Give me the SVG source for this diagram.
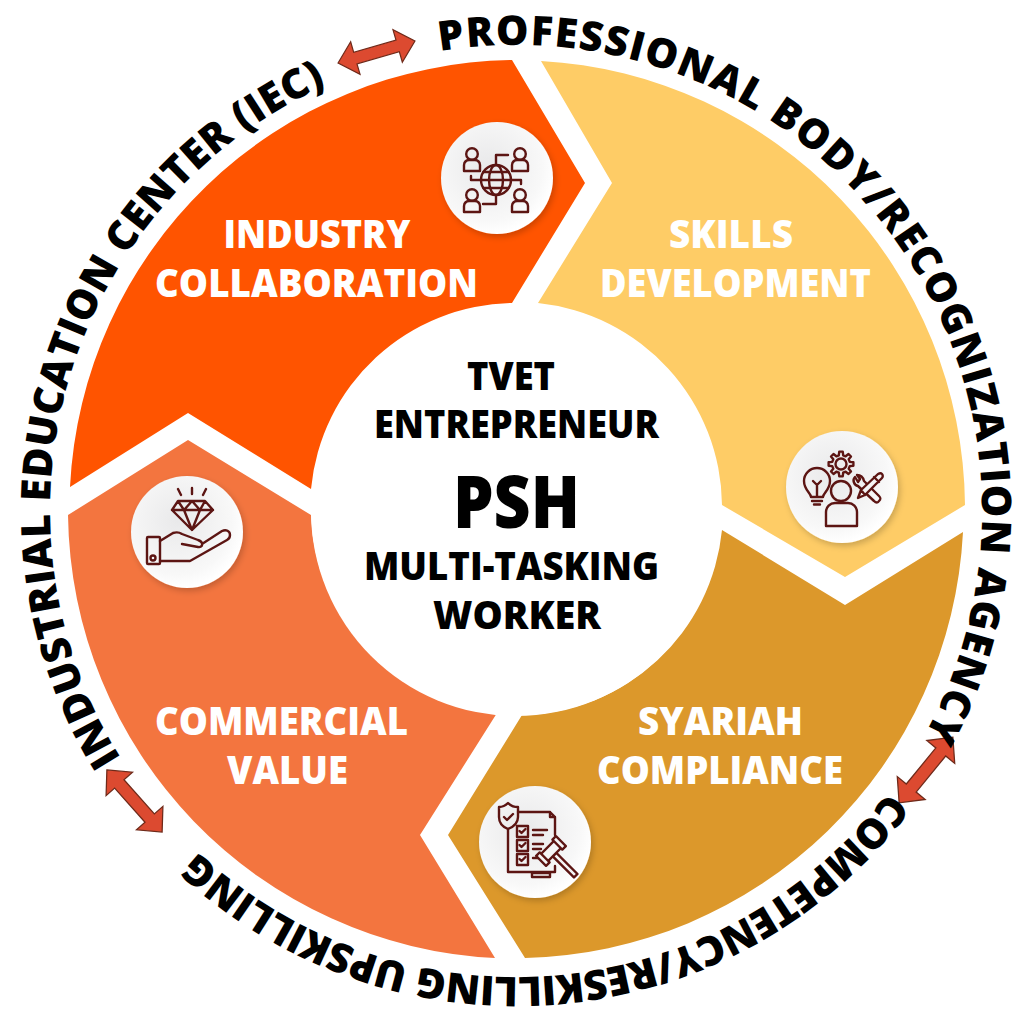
<svg xmlns="http://www.w3.org/2000/svg" width="1030" height="1020" viewBox="0 0 1030 1020">
<style>
text{font-family:"Open Sans","Liberation Sans",sans-serif;font-weight:800}
.l{font-size:38px;fill:#fff;text-anchor:middle}
.c{font-size:38px;fill:#000;text-anchor:middle}
.r{font-size:41px;fill:#000}
.ic{fill:none;stroke:#5c1513;stroke-width:2.4;stroke-linecap:round;stroke-linejoin:round}
.disc{fill:url(#dg);filter:url(#sh)}
.ar{fill:#dc4a30;stroke:#6e2a1a;stroke-width:1.2}
</style>
<defs>
<radialGradient id="dg" cx=".42" cy=".4" r=".6"><stop offset="0" stop-color="#e9e9ea"/><stop offset=".8" stop-color="#f8f8f8"/><stop offset="1" stop-color="#fff"/></radialGradient>
<filter id="sh" x="-20%" y="-20%" width="140%" height="140%"><feDropShadow dx="2" dy="3" stdDeviation="3" flood-color="#000" flood-opacity=".2"/></filter>
<path id="p1" d="M439.900 51.200A466 466 0 0 1 924.700 734.800"/>
<path id="p2" d="M888.200 791.400A466 466 0 0 1 186.500 840.500"/>
<path id="p3" d="M120.900 758A466 466 0 0 1 326.400 85.300"/>
<polygon id="arrow" class="ar" points="-40,0 -22,-17 -22,-6 22,-6 22,-17 40,0 22,17 22,6 -22,6 -22,17"/>
<g id="person"><circle cx="0" cy="-6" r="5.800"/><path d="M-8 11V5a5.500 5.500 0 0 1 5-5h6a5.500 5.500 0 0 1 5 5v6z"/></g>
</defs>
<rect width="1030" height="1020" fill="#fff"/>
<g id="connectors">
<use href="#arrow" transform="translate(376.500 52) rotate(-16)"/>
<use href="#arrow" transform="translate(926 770) rotate(-50.700) scale(1.060)"/>
<use href="#arrow" transform="translate(134.500 801) rotate(48.400) scale(1.040)"/>
</g>
<g id="ring-text">
<text class="r"><textPath href="#p1" textLength="1042" lengthAdjust="spacing">PROFESSIONAL BODY/RECOGNIZATION AGENCY</textPath></text>
<text class="r"><textPath href="#p2" textLength="782" lengthAdjust="spacing">COMPETENCY/RESKILLING UPSKILLING</textPath></text>
<text class="r"><textPath href="#p3" textLength="797" lengthAdjust="spacing">INDUSTRIAL EDUCATION CENTER (IEC)</textPath></text>
</g>
<g id="node-industry">
<path fill="#ff5400" d="M70 487A449 449 0 0 1 512 60L585 183L512 303A205 205 0 0 0 311 489L188 413Z"/>
<text class="l" x="317" y="248" textLength="187" lengthAdjust="spacingAndGlyphs">INDUSTRY</text>
<text class="l" x="316.500" y="297" textLength="323" lengthAdjust="spacingAndGlyphs">COLLABORATION</text>
<circle class="disc" cx="497" cy="178" r="56"/>
<g class="ic"><circle cx="496" cy="180" r="15"/><ellipse cx="496" cy="180" rx="7" ry="15"/><path d="M481 180h30M483.500 172h25M483.500 188h25M496 165V155h12M481 180h-10v-4M511 180h10v4M496 195v9h-13"/>
<use href="#person" x="472" y="160"/><use href="#person" x="520" y="160"/><use href="#person" x="472" y="201"/><use href="#person" x="520" y="201"/></g>
</g>
<g id="node-skills">
<path fill="#fecc66" d="M541 61A449 449 0 0 1 965 505L845 577L722 505A205 205 0 0 0 538 303L612 183Z"/>
<text class="l" x="731" y="248" textLength="124" lengthAdjust="spacingAndGlyphs">SKILLS</text>
<text class="l" x="735.500" y="297" textLength="271" lengthAdjust="spacingAndGlyphs">DEVELOPMENT</text>
<circle class="disc" cx="842" cy="487" r="56"/>
<g class="ic"><path d="M811 497c0-4-7-7-7-16a13 13 0 0 1 26 0c0 9-7 12-7 16zM812 501h10M814 504.500h6M817 497v-12l-4-4M817 485l4-4"/>
<circle cx="841" cy="464" r="5.500"/><polygon transform="translate(841 464)" points="8.730,-2.180 12.380,-1.740 12.380,1.740 8.730,2.180 7.710,4.640 9.980,7.520 7.520,9.980 4.640,7.710 2.180,8.730 1.740,12.380 -1.740,12.380 -2.180,8.730 -4.640,7.710 -7.520,9.980 -9.980,7.520 -7.710,4.640 -8.730,2.180 -12.380,1.740 -12.380,-1.740 -8.730,-2.180 -7.710,-4.640 -9.980,-7.520 -7.520,-9.980 -4.640,-7.710 -2.180,-8.730 -1.740,-12.380 1.740,-12.380 2.180,-8.730 4.640,-7.710 7.520,-9.980 9.980,-7.520 7.710,-4.640"/>
<circle cx="841" cy="491" r="10"/><path d="M826 526v-14a9 9 0 0 1 9-9h13a9 9 0 0 1 9 9v14z"/>
<path d="M855 477c-3 3-1 8 3 9l16 15c2 2 4 2 5 0 2-2 2-3 0-5l-15-15c-1-4-4-6-7-6l3 4-2 3z"/>
<path d="M858 498l3-8 17-16c2-1 3-1 4 0 1 1 1 3 0 4l-17 17zM861 490l4 5M874 477l5 5" fill="#f5f5f5"/></g>
</g>
<g id="node-syariah">
<path fill="#dc982b" d="M963 532A449 449 0 0 1 525 958L448 835L522 715A205 205 0 0 0 722 530L845 605Z"/>
<text class="l" x="720.500" y="735" textLength="165" lengthAdjust="spacingAndGlyphs">SYARIAH</text>
<text class="l" x="720" y="784" textLength="246" lengthAdjust="spacingAndGlyphs">COMPLIANCE</text>
<circle class="disc" cx="535" cy="842" r="56"/>
<g class="ic"><path d="M518 812h32l5 5v18M508 829v43h47v-6M550 812v5h5M532 873h18v4h-18z"/>
<path d="M508 803c3 3 7 4 10 4v10c0 6-5 10-10 12c-5-2-9-6-9-12v-10c3 0 6-1 9-4zM504 817l3 3 6-6"/>
<rect x="517" y="826" width="11" height="11"/><rect x="517" y="840" width="11" height="11"/><rect x="517" y="854" width="11" height="11"/>
<path d="M519.500 831l2 2 4-4M519.500 845l2 2 4-4M519.500 859l2 2 4-4M533 830h14M533 835h10M533 844h10M533 849h8M533 858h5"/>
<g transform="translate(551 851) rotate(45)" fill="#f5f5f5"><rect x="5" y="-2.500" width="30" height="5"/><rect x="-5" y="-10" width="10" height="20"/><rect x="-7" y="-14" width="14" height="5"/><rect x="-7" y="9" width="14" height="5"/></g></g>
</g>
<g id="node-commercial">
<path fill="#f3753f" d="M68 515A449 449 0 0 0 495 958L420 835L497 713A205 205 0 0 1 311 515L188 440Z"/>
<text class="l" x="281.500" y="735" textLength="253" lengthAdjust="spacingAndGlyphs">COMMERCIAL</text>
<text class="l" x="287.500" y="784" textLength="121" lengthAdjust="spacingAndGlyphs">VALUE</text>
<circle class="disc" cx="187" cy="532" r="56"/>
<g class="ic"><path d="M178 501h27l8 9-21 20-20-20zM172 510h41M184 510l8 20 8-20M178 501l6 9 8-9 8 9 5-9M192 494v-6M181 495l-3-6M203 495l3-6"/>
<rect x="147" y="537" width="13" height="27" rx="1"/><circle cx="153" cy="558" r="2.500"/>
<path d="M160 541l13-8c3-1 6-1 9 1l16 6c6 2 5 8 0 7l-16-3M202 544l20-13c4-2 8 0 8 4 0 2-1 4-3 5l-37 21h-30"/></g>
</g>
<g id="node-center">
<circle cx="516" cy="511" r="205" fill="#fff"/>
<text class="c" x="511" y="390" textLength="88" lengthAdjust="spacingAndGlyphs">TVET</text>
<text class="c" x="516.500" y="438" textLength="285" lengthAdjust="spacingAndGlyphs">ENTREPRENEUR</text>
<text class="c" x="516.500" y="528" style="font-size:72px" textLength="127" lengthAdjust="spacingAndGlyphs">PSH</text>
<text class="c" x="511.500" y="580" textLength="295" lengthAdjust="spacingAndGlyphs">MULTI-TASKING</text>
<text class="c" x="517" y="629" textLength="168" lengthAdjust="spacingAndGlyphs">WORKER</text>
</g>
</svg>
